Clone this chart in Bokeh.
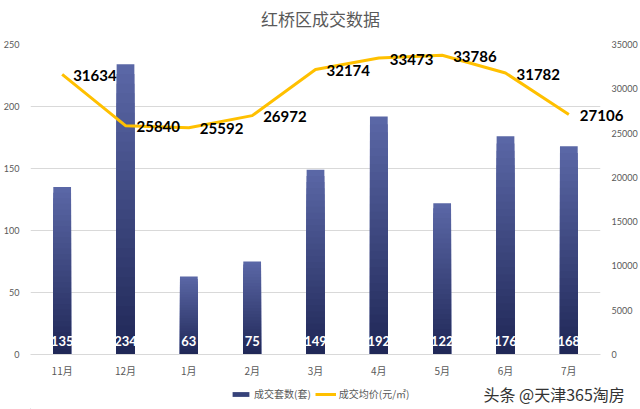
from bokeh.plotting import figure
from bokeh.layouts import column
from bokeh.models import (Range1d, LinearAxis, FixedTicker, Legend, LegendItem,
                          ColumnDataSource, FactorRange)
from bokeh.core.properties import value
from bokeh.embed import file_html
from bokeh.resources import INLINE

months = ["11月", "12月", "1月", "2月", "3月", "4月", "5月", "6月", "7月"]
deals = [135, 234, 63, 75, 149, 192, 122, 176, 168]
prices = [31634, 25840, 25592, 26972, 32174, 33473, 33786, 31782, 27106]
left_ticks = [0, 50, 100, 150, 200, 250]
right_ticks = [0, 5000, 10000, 15000, 20000, 25000, 30000, 35000]
title_text = "红桥区成交数据"
source_text = "头条 @天津365淘房"
series_names = ["成交套数(套)", "成交均价(元/㎡)"]

CJK = "Noto Sans CJK SC"
NUM = "Lato"
BAR_TOP = (0x5A, 0x67, 0xA6)
BAR_BOT = (0x1E, 0x26, 0x55)
LINE_C = "#FFC000"

# layout (pixels)
W, H1, H2 = 640, 380, 29
BL, BR, BT = 30, 40, 44
FRAME_BOTTOM = 357

p = figure(width=W, height=H1, output_backend="svg", toolbar_location=None,
           x_range=FactorRange(*months, range_padding=0), y_range=Range1d(0, 250),
           min_border_left=BL, min_border_right=BR, min_border_top=BT,
           min_border_bottom=H1 - FRAME_BOTTOM)
p.outline_line_color = None
p.background_fill_color = "white"
p.border_fill_color = "white"
p.extra_y_ranges = {"price": Range1d(0, 35000)}

# gradient bars: light top to dark bottom, drawn as nested bars
N = 30
for k in range(N):
    f = (N - k) / N
    c = tuple(int(BAR_BOT[i] + (BAR_TOP[i] - BAR_BOT[i]) * f) for i in range(3))
    col = "#%02x%02x%02x" % c
    src = ColumnDataSource(dict(x=months, top=[v * f for v in deals]))
    p.vbar(x="x", top="top", bottom=0, width=0.28, source=src,
           fill_color=col, line_color=None)

# bar labels
p.text(x=months, y=[0] * len(months), text=[str(v) for v in deals],
       text_color="white", text_font=value(NUM), text_font_style="bold",
       text_font_size="13px", text_align="center", text_baseline="middle",
       y_offset=-14, level="overlay")

# price line
p.line(x=months, y=prices, y_range_name="price", line_color=LINE_C,
       line_width=3, line_join="round")
p.text(x=months, y=prices, y_range_name="price", text=[str(v) for v in prices],
       text_color="black", text_font=value(NUM), text_font_style="bold",
       text_font_size="15px", text_align="left", text_baseline="middle",
       x_offset=11, y_offset=1, level="overlay")

# title, centred above the plot area (middle of the category axis)
p.text(x=["3月"], y=[250], text=[title_text], text_color="#595959",
       text_font=value(CJK), text_font_size="17px", text_align="center",
       text_baseline="middle", x_offset=5, y_offset=-26, level="overlay")

# axes
p.yaxis.ticker = FixedTicker(ticks=left_ticks)
p.yaxis.axis_line_color = None
p.yaxis.major_tick_line_color = None
p.yaxis.minor_tick_line_color = None
p.yaxis.major_label_text_font_size = "9px"
p.yaxis.major_label_text_color = "#595959"
p.yaxis.major_label_text_font = NUM
p.yaxis.major_label_standoff = 5

ra = LinearAxis(y_range_name="price", ticker=FixedTicker(ticks=right_ticks))
ra.axis_line_color = None
ra.major_tick_line_color = None
ra.minor_tick_line_color = None
ra.major_label_text_font_size = "9px"
ra.major_label_text_color = "#595959"
ra.major_label_text_font = NUM
ra.major_label_standoff = 5
p.add_layout(ra, "right")

p.xaxis.axis_line_color = "#D9D9D9"
p.xaxis.major_tick_line_color = None
p.xaxis.minor_tick_line_color = None
p.xaxis.major_label_text_font_size = "10px"
p.xaxis.major_label_text_color = "#595959"
p.xaxis.major_label_text_font = CJK
p.xaxis.major_label_standoff = 2

p.xgrid.grid_line_color = None
p.ygrid.grid_line_color = "#D9D9D9"
p.ygrid.ticker = FixedTicker(ticks=left_ticks)

# bottom strip: legend + source text (frame aligned with the main plot's frame)
W2 = W - BL - BR
p2 = figure(width=W, height=H2, output_backend="svg", toolbar_location=None,
            x_range=Range1d(0, W2), y_range=Range1d(0, H2),
            x_axis_location=None, y_axis_location=None,
            min_border_left=BL, min_border_right=BR, min_border_top=0, min_border_bottom=0)
p2.outline_line_color = None
p2.grid.grid_line_color = None
p2.border_fill_color = "white"
p2.background_fill_color = "white"
lg_bar = p2.vbar(x=[-100], top=[1], width=1, fill_color="#36427A", line_color=None)
lg_line = p2.line(x=[-100, -90], y=[1, 1], line_color=LINE_C, line_width=3)

legend = Legend(items=[LegendItem(label=series_names[0], renderers=[lg_bar]),
                       LegendItem(label=series_names[1], renderers=[lg_line])],
                orientation="horizontal", location=(200, 8),
                label_text_font=CJK, label_text_font_size="10px",
                label_text_color="#595959", glyph_width=21, glyph_height=6,
                label_standoff=3, spacing=4, padding=2, margin=0,
                label_height=12, background_fill_alpha=0, border_line_color=None)
p2.add_layout(legend, "center")

p2.text(x=[453], y=[16], text=[source_text], text_color="#333333",
        text_font=value(CJK), text_font_size="16px", text_align="left",
        text_baseline="middle", level="overlay")

layout = column(p, p2, spacing=0)
open("out.html", "w").write(file_html(layout, INLINE))
